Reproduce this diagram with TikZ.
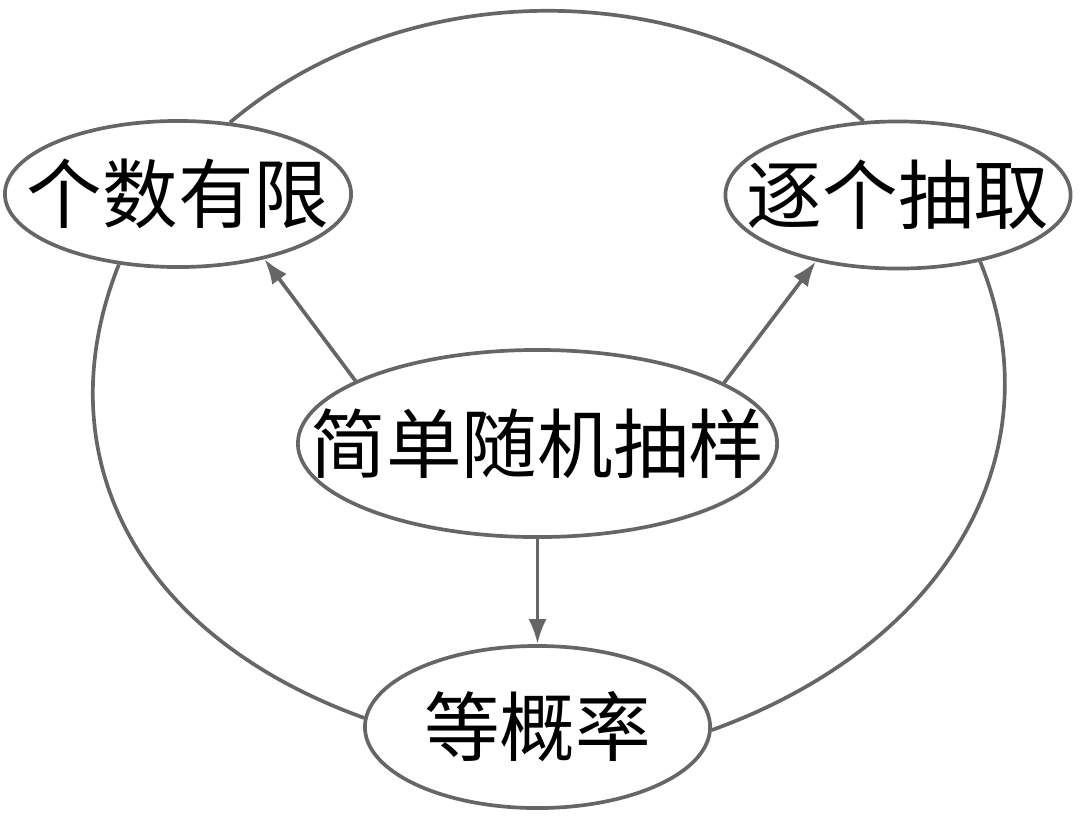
\documentclass[tikz,border=0pt]{standalone}
\usepackage{fontspec}
\newfontfamily\cjk{Noto Sans CJK SC}
\usetikzlibrary{shapes.geometric,arrows.meta}
\definecolor{linegray}{RGB}{102,102,102}
\begin{document}
\begin{tikzpicture}[x=0.01cm,y=-0.01cm,
  oval/.style={ellipse, draw=linegray, line width=1.05pt, fill=white, inner sep=0pt,
    font=\cjk\fontsize{21.5pt}{26pt}\selectfont},
  link/.style={draw=linegray, line width=1.05pt},
  arr/.style={link, -{Latex[length=2.5mm,width=1.8mm]}}]
\useasboundingbox (0,0) rectangle (1080,824);
\node[oval, minimum width=3.46cm, minimum height=1.46cm] (a) at (178,194) {\makebox[0pt]{个数有限}};
\node[oval, minimum width=3.45cm, minimum height=1.47cm] (b) at (898,195) {\makebox[0pt]{逐个抽取}};
\node[oval, minimum width=4.79cm, minimum height=1.87cm] (c) at (537.5,443.5) {\makebox[0pt]{简单随机抽样}};
\node[oval, minimum width=3.45cm, minimum height=1.62cm] (d) at (537.5,727) {\makebox[0pt]{等概率}};
\draw[link] (a.54) .. controls +(175,-148) and +(-177,-148) .. (b.115);
\draw[link] (a.230) .. controls +(-74,185) and +(-235,-85) .. (d.177);
\draw[link] (b.-39) .. controls +(78,192) and +(235,-85) .. (d.-1);
\draw[arr] (c.161) -- (a.-37);
\draw[arr] (c.18) -- (b.-141.5);
\draw[arr] (c.south) -- (d.north);
\end{tikzpicture}
\end{document}
